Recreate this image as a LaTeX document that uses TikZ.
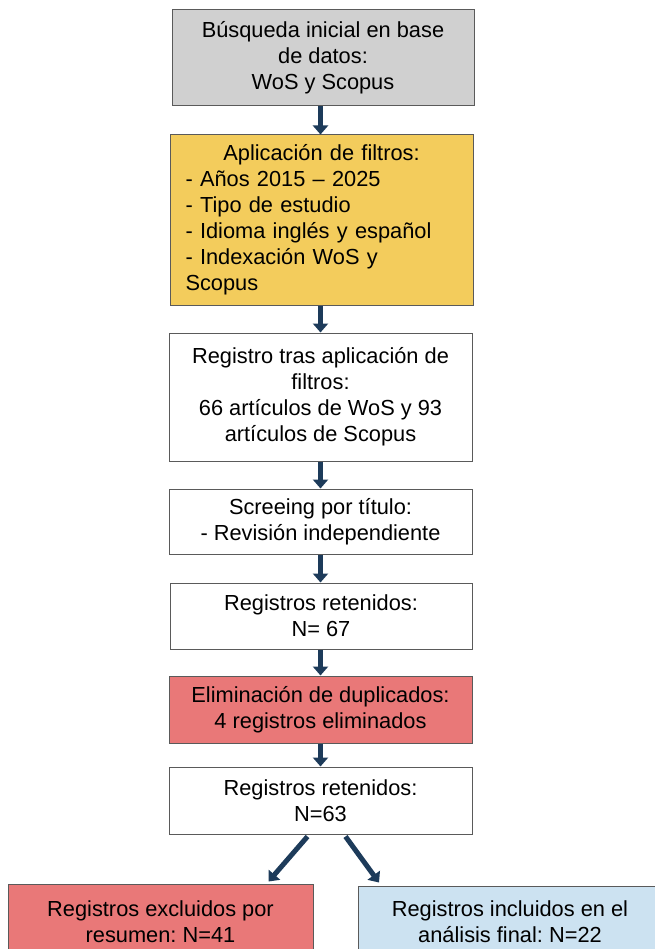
\documentclass[tikz,border=0pt]{standalone}
\usepackage{fontspec}
\setmainfont{Liberation Sans}
\usetikzlibrary{arrows.meta}
\definecolor{gbox}{HTML}{D0D0D0}
\definecolor{ybox}{HTML}{F3CC5C}
\definecolor{rbox}{HTML}{E97878}
\definecolor{bbox}{HTML}{CCE2F1}
\definecolor{edge}{HTML}{5A5A5A}
\definecolor{navy}{HTML}{1D3B5A}
\frenchspacing
\tikzset{
  box/.style={draw=edge, line width=1pt, inner sep=0pt, align=center,
    font=\fontsize{21.8}{26}\selectfont\frenchspacing, text=black},
  arr/.style={navy, line width=5pt, -{Triangle[width=15pt,length=9pt]}}
}
\begin{document}
\begin{tikzpicture}[x=1pt,y=-1pt]
\useasboundingbox (0,0) rectangle (654,949);
\fill[white] (0,0) rectangle (654,949);
\coordinate (ax) at (320.5,0);
\node[box, fill=gbox, minimum width=302, minimum height=96] (b1) at (323,58)
  {Búsqueda inicial en base\\de datos:\\WoS y Scopus};
\node[box, fill=ybox, minimum width=303, minimum height=170, text width=272, align=left] (b2) at (321.5,220)
  {\makebox[\linewidth]{Aplicación de filtros:}\\- Años 2015 – 2025\\- Tipo de estudio\\- Idioma inglés y español\\- Indexación WoS y\\Scopus};
\node[box, fill=white, minimum width=303, minimum height=128] (b3) at (320.5,397)
  {Registro tras aplicación de\\filtros:\\66 artículos de WoS y 93\\artículos de Scopus};
\node[box, fill=white, minimum width=303, minimum height=65] (b4) at (320.5,521.5)
  {Screeing por título:\\- Revisión independiente};
\node[box, fill=white, minimum width=302, minimum height=66] (b5) at (321,616)
  {Registros retenidos:\\N= 67};
\node[box, fill=rbox, minimum width=303, minimum height=67] (b6) at (320.5,709.5)
  {Eliminación de duplicados:\\4 registros eliminados};
\node[box, fill=white, minimum width=303, minimum height=67] (b7) at (320.5,800.5)
  {Registros retenidos:\\N=63};
\node[box, fill=rbox, minimum width=305, minimum height=76] (b8) at (160.5,922)
  {Registros excluidos por\\resumen: N=41};
\node[box, fill=bbox, minimum width=304, minimum height=72] (b9) at (510,922)
  {Registros incluidos en el\\análisis final: N=22};
\draw[arr] (b1.south -| ax) -- (b2.north -| ax);
\draw[arr] (b2.south -| ax) -- (b3.north -| ax);
\draw[arr] (b3.south -| ax) -- (b4.north -| ax);
\draw[arr] (b4.south -| ax) -- (b5.north -| ax);
\draw[arr] (b5.south -| ax) -- (b6.north -| ax);
\draw[arr] (b6.south -| ax) -- (b7.north -| ax);
\draw[arr] ([xshift=-13pt,yshift=-2pt]b7.south) -- ([xshift=108pt,yshift=2pt]b8.north);
\draw[arr] ([xshift=25pt,yshift=-2pt]b7.south) -- ([xshift=-131pt,yshift=3pt]b9.north);
\end{tikzpicture}
\end{document}
